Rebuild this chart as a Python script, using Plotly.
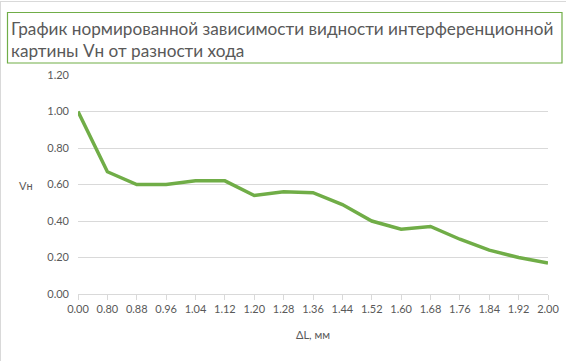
import plotly.graph_objects as go

categories = ["0.00", "0.80", "0.88", "0.96", "1.04", "1.12", "1.20", "1.28", "1.36",
              "1.44", "1.52", "1.60", "1.68", "1.76", "1.84", "1.92", "2.00"]
values = [1.00, 0.67, 0.60, 0.60, 0.62, 0.62, 0.54, 0.56, 0.555,
          0.49, 0.40, 0.355, 0.37, 0.30, 0.24, 0.20, 0.17]
y_ticks = [0.0, 0.2, 0.4, 0.6, 0.8, 1.0, 1.2]

idx = list(range(len(categories)))
gray = "#595959"
font = "Lato"

W, H = 570, 361
L, R, T, B = 78, 22, 75, 67
pw, ph = W - L - R, H - T - B


def px(x):
    return (x - L) / pw


def py(y):
    return (H - B - y) / ph


fig = go.Figure()
fig.add_trace(go.Scatter(x=idx, y=values, mode="lines",
                         line=dict(color="#70ad47", width=3.5), hoverinfo="skip"))

fig.update_layout(
    width=W, height=H,
    margin=dict(l=L, r=R, t=T, b=B, autoexpand=False),
    paper_bgcolor="white", plot_bgcolor="white",
    showlegend=False,
    font=dict(family=font, color=gray, size=11),
    xaxis=dict(range=[0, len(categories) - 1], tickvals=idx, ticktext=categories,
               showgrid=False, zeroline=False, showline=True, linecolor="#d9d9d9",
               linewidth=1, ticks="outside", ticklen=5, tickcolor="#d9d9d9",
               tickfont=dict(size=11, color=gray),
               title=dict(text="ΔL, мм", font=dict(size=11, color=gray), standoff=17)),
    yaxis=dict(range=[0, 1.2], tickvals=y_ticks, ticktext=[f"{v:.2f}" for v in y_ticks],
               showgrid=True, gridcolor="#d9d9d9", gridwidth=1, zeroline=False,
               showline=False, tickfont=dict(size=11, color=gray), ticklabelstandoff=8),
    shapes=[
        dict(type="rect", xref="paper", yref="paper", x0=px(7.5), x1=px(562),
             y0=py(63), y1=py(12.5), line=dict(color="#70ad47", width=1.2), layer="above"),
        dict(type="line", xref="paper", yref="paper", x0=px(0), x1=px(566),
             y0=py(1.5), y1=py(1.5), line=dict(color="#d9d9d9", width=1)),
        dict(type="line", xref="paper", yref="paper", x0=px(0.5), x1=px(0.5),
             y0=py(1.5), y1=py(361), line=dict(color="#d9d9d9", width=1)),
    ],
    annotations=[
        dict(text="График нормированной зависимости видности интерференционной<br>картины Vн от разности хода",
             xref="paper", yref="paper", x=px(9), y=py(16), xanchor="left", yanchor="top",
             align="left", showarrow=False, font=dict(size=17.2, color=gray, family=font)),
        dict(text="Vн", xref="paper", yref="paper", x=px(26), y=py(185), xanchor="center",
             yanchor="middle", showarrow=False, font=dict(size=11, color=gray, family=font)),
    ],
)

fig.write_html("out.html", config={"displayModeBar": False},
               post_script="document.body.style.margin='0';")
